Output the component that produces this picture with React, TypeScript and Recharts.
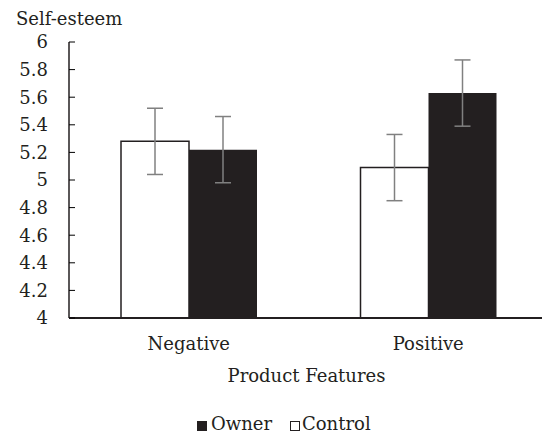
import { BarChart, Bar, XAxis, YAxis, ErrorBar } from 'recharts';

const categories = ['Negative', 'Positive'];
const controlValues = [5.28, 5.09];
const controlErrors = [0.24, 0.24];
const ownerValues = [5.22, 5.63];
const ownerErrors = [0.24, 0.24];
const yTicks = [4, 4.2, 4.4, 4.6, 4.8, 5, 5.2, 5.4, 5.6, 5.8, 6];

const data = categories.map((name, i) => ({
  name,
  Control: controlValues[i],
  controlErr: controlErrors[i],
  Owner: ownerValues[i],
  ownerErr: ownerErrors[i],
}));

// only serif face that actually resolves in the sandbox
const FONT = 'DejaVu Serif';
const FS = 18;
const INK = '#231f20';
const OWNER_FILL = '#231f20';
const ERR_COLOR = '#808080';

// y tick with the little tick mark pointing into the plot
const YTick = (props: any) => {
  const { x, y, payload } = props;
  return (
    <g>
      <line x1={x + 21} x2={x + 27} y1={y} y2={y} stroke="#000" strokeWidth={1} />
      <text x={x} y={y} dy="0.355em" textAnchor="end" fontSize={FS} fill={INK} fontFamily={FONT}>
        {String(payload.value)}
      </text>
    </g>
  );
};

export default function App() {
  return (
    <div style={{ position: 'absolute', left: 0, top: 0, width: 542, height: 435, overflow: 'hidden', background: '#fff', fontFamily: FONT }}>
      <BarChart
        width={548}
        height={435}
        data={data}
        barGap={0}
        barSize={68}
        margin={{ top: 42, right: 0, left: 0, bottom: 57 }}
      >
        <XAxis
          dataKey="name"
          axisLine={{ stroke: INK, strokeWidth: 2 }}
          tickLine={false}
          tickSize={0}
          tickMargin={19}
          height={60}
          tick={{ fontSize: FS, fill: INK, fontFamily: FONT }}
          label={{
            content: (p: any) => {
              const vb = p.viewBox;
              return (
                <text x={vb.x + vb.width / 2 - 2} y={vb.y + 64} textAnchor="middle" fontSize={FS} fill={INK} fontFamily={FONT}>
                  Product Features
                </text>
              );
            },
          }}
        />
        <YAxis
          type="number"
          domain={[4, 6]}
          ticks={yTicks}
          interval={0}
          width={69}
          tickSize={0}
          tickMargin={21}
          tickLine={false}
          axisLine={{ stroke: INK, strokeWidth: 1.5 }}
          tick={<YTick />}
          label={{
            content: () => (
              <text x={16} y={25} fontSize={FS} fill={INK} fontFamily={FONT}>
                Self-esteem
              </text>
            ),
          }}
        />
        <Bar dataKey="Control" fill="#fff" stroke={INK} strokeWidth={1.5} isAnimationActive={false}>
          <ErrorBar dataKey="controlErr" width={8} stroke={ERR_COLOR} strokeWidth={1.5} />
        </Bar>
        <Bar dataKey="Owner" fill={OWNER_FILL} isAnimationActive={false}>
          <ErrorBar dataKey="ownerErr" width={8} stroke={ERR_COLOR} strokeWidth={1.5} />
        </Bar>
      </BarChart>
      <div style={{ position: 'absolute', left: 0, top: 0, fontSize: FS, color: INK, lineHeight: '20px' }}>
        <span style={{ position: 'absolute', left: 197, top: 421, width: 10, height: 10, background: OWNER_FILL }} />
        <span style={{ position: 'absolute', left: 211, top: 414, whiteSpace: 'nowrap' }}>Owner</span>
        <span style={{ position: 'absolute', left: 290, top: 421, width: 8, height: 8, border: '1px solid ' + INK, background: '#fff' }} />
        <span style={{ position: 'absolute', left: 302, top: 414, whiteSpace: 'nowrap' }}>Control</span>
      </div>
    </div>
  );
}
